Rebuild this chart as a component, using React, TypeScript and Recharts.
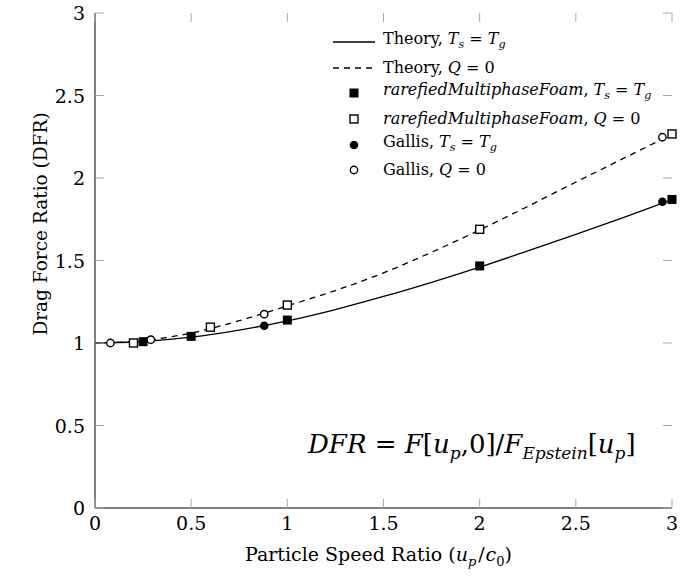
import { ComposedChart, Line, Scatter, XAxis, YAxis, Legend, Label } from 'recharts'

// theory curves, sampled every 0.25 in u_p/c_0
const theoryX = [0, 0.25, 0.5, 0.75, 1, 1.25, 1.5, 1.75, 2, 2.25, 2.5, 2.75, 3]
const theoryEqualT = [1, 1.009, 1.035, 1.078, 1.134, 1.203, 1.282, 1.368, 1.46, 1.558, 1.658, 1.762, 1.868]
const theoryAdiabatic = [1, 1.015, 1.06, 1.135, 1.225, 1.318, 1.425, 1.55, 1.685, 1.828, 1.975, 2.12, 2.265]

// rarefiedMultiphaseFoam results
const rmfEqualX = [0.25, 0.5, 1, 2, 3]
const rmfEqualY = [1.008, 1.04, 1.139, 1.467, 1.87]
const rmfAdiabaticX = [0.2, 0.6, 1, 2, 3]
const rmfAdiabaticY = [1.0, 1.096, 1.23, 1.689, 2.267]

// Gallis results
const gallisEqualX = [0.88, 2.95]
const gallisEqualY = [1.105, 1.856]
const gallisAdiabaticX = [0.08, 0.29, 0.88, 2.95]
const gallisAdiabaticY = [1.0, 1.02, 1.175, 2.247]

const axisTicks = [0, 0.5, 1, 1.5, 2, 2.5, 3]

const FONT = '"DejaVu Serif", serif'

// layout
const WIDTH = 697
const HEIGHT = 583
const MARGIN = { top: 13, right: 25, bottom: 0, left: 0 }
const Y_AXIS_W = 95
const X_AXIS_H = 75
const PLOT_LEFT = MARGIN.left + Y_AXIS_W
const PLOT_RIGHT = WIDTH - MARGIN.right
const PLOT_TOP = MARGIN.top
const PLOT_BOTTOM = HEIGHT - MARGIN.bottom - X_AXIS_H
const TICK_LEN = 9
const TICK_COLOR = '#a8a8a8'

const toPoints = (xs: number[], ys: number[]) => xs.map((x, i) => ({ x, y: ys[i] }))

const filledSquare = (p: any) => <rect x={p.cx - 4.5} y={p.cy - 4.5} width={9} height={9} fill="#000" />
const openSquare = (p: any) => (
  <rect x={p.cx - 4} y={p.cy - 4} width={8} height={8} fill="#fff" stroke="#000" strokeWidth={1.4} />
)
const filledCircle = (p: any) => <circle cx={p.cx} cy={p.cy} r={4.3} fill="#000" />
const openCircle = (p: any) => <circle cx={p.cx} cy={p.cy} r={3.7} fill="#fff" stroke="#000" strokeWidth={1.4} />

// ticks point inwards on all four sides of the box (pgfplots style);
// the bottom/left renderers also draw the matching top/right marks
const BottomTick = ({ x, payload }: any) => (
  <g>
    <path d={`M${x},${PLOT_BOTTOM}V${PLOT_BOTTOM - TICK_LEN}`} stroke={TICK_COLOR} fill="none" />
    <path d={`M${x},${PLOT_TOP}V${PLOT_TOP + TICK_LEN}`} stroke={TICK_COLOR} fill="none" />
    <text x={x} y={PLOT_BOTTOM + 22} textAnchor="middle" fontFamily={FONT} fontSize={19} fill="#000">
      {payload.value}
    </text>
  </g>
)
const LeftTick = ({ y, payload }: any) => (
  <g>
    <path d={`M${PLOT_LEFT},${y}H${PLOT_LEFT + TICK_LEN}`} stroke={TICK_COLOR} fill="none" />
    <path d={`M${PLOT_RIGHT},${y}H${PLOT_RIGHT - TICK_LEN}`} stroke={TICK_COLOR} fill="none" />
    <text x={PLOT_LEFT - 10} y={y + 7} textAnchor="end" fontFamily={FONT} fontSize={19} fill="#000">
      {payload.value}
    </text>
  </g>
)

const subStyle = { fontSize: '0.7em' }
const Ts = (
  <>
    <i>T</i><sub style={subStyle}><i>s</i></sub> = <i>T</i><sub style={subStyle}><i>g</i></sub>
  </>
)
const Q0 = (
  <>
    <i>Q</i> = 0
  </>
)

const legendItems = [
  { key: 'solid', label: <>Theory, {Ts}</> },
  { key: 'dashed', label: <>Theory, {Q0}</> },
  { key: 'fsq', label: <><i>rarefiedMultiphaseFoam</i>, {Ts}</> },
  { key: 'osq', label: <><i>rarefiedMultiphaseFoam</i>, {Q0}</> },
  { key: 'fci', label: <>Gallis, {Ts}</> },
  { key: 'oci', label: <>Gallis, {Q0}</> },
]

function LegendSymbol({ kind }: { kind: string }) {
  return (
    <svg width={44} height={20} style={{ display: 'block' }}>
      {kind === 'solid' && <line x1={0} y1={10} x2={42} y2={10} stroke="#000" strokeWidth={1.3} />}
      {kind === 'dashed' && <line x1={0} y1={10} x2={42} y2={10} stroke="#000" strokeWidth={1.3} strokeDasharray="6 5" />}
      {kind === 'fsq' && filledSquare({ cx: 21, cy: 10 })}
      {kind === 'osq' && openSquare({ cx: 21, cy: 10 })}
      {kind === 'fci' && filledCircle({ cx: 21, cy: 10 })}
      {kind === 'oci' && openCircle({ cx: 21, cy: 10 })}
    </svg>
  )
}

const renderLegend = () => (
  <div style={{ fontFamily: FONT, fontSize: 16, color: '#000' }}>
    {legendItems.map(item => (
      <div key={item.key} style={{ display: 'flex', alignItems: 'center', height: 25.6, whiteSpace: 'nowrap' }}>
        <LegendSymbol kind={item.key} />
        <span style={{ marginLeft: 6, lineHeight: '20px' }}>{item.label}</span>
      </div>
    ))}
  </div>
)

export default function App() {
  return (
    <div style={{ position: 'absolute', left: 0, top: 0, width: WIDTH, height: HEIGHT, background: '#fff' }}>
      <ComposedChart width={WIDTH} height={HEIGHT} margin={MARGIN}>
        <XAxis
          type="number"
          dataKey="x"
          domain={[0, 3]}
          ticks={axisTicks}
          height={X_AXIS_H}
          tickLine={false}
          axisLine={{ stroke: '#000' }}
          tick={BottomTick}
        >
          <Label
            content={() => (
              <text
                x={(PLOT_LEFT + PLOT_RIGHT) / 2 - 5}
                y={PLOT_BOTTOM + 53}
                textAnchor="middle"
                fontFamily={FONT}
                fontSize={19}
                fill="#000"
              >
                Particle Speed Ratio (<tspan fontStyle="italic">u</tspan>
                <tspan dy={5} fontSize={13} fontStyle="italic">p</tspan>
                <tspan dy={-5} dx={2}>/</tspan>
                <tspan dx={1} fontStyle="italic">c</tspan>
                <tspan dy={5} fontSize={13}>0</tspan>
                <tspan dy={-5}>)</tspan>
              </text>
            )}
          />
        </XAxis>
        <XAxis
          xAxisId="top"
          orientation="top"
          type="number"
          domain={[0, 3]}
          height={0}
          mirror
          tick={false}
          tickLine={false}
          axisLine={{ stroke: '#000' }}
        />
        <YAxis
          type="number"
          dataKey="y"
          domain={[0, 3]}
          ticks={axisTicks}
          width={Y_AXIS_W}
          tickLine={false}
          axisLine={{ stroke: '#000' }}
          tick={LeftTick}
        >
          <Label
            content={() => (
              <text
                x={40}
                y={224}
                transform="rotate(-90 40 224)"
                textAnchor="middle"
                dominantBaseline="central"
                fontFamily={FONT}
                fontSize={18.5}
                fill="#000"
              >
                Drag Force Ratio (DFR)
              </text>
            )}
          />
        </YAxis>
        <YAxis
          yAxisId="right"
          orientation="right"
          type="number"
          domain={[0, 3]}
          width={0}
          mirror
          tick={false}
          tickLine={false}
          axisLine={{ stroke: '#000' }}
        />

        <Line
          data={toPoints(theoryX, theoryEqualT)}
          dataKey="y"
          type="monotone"
          stroke="#000"
          strokeWidth={1.3}
          dot={false}
          activeDot={false}
          isAnimationActive={false}
          name="Theory, Ts = Tg"
        />
        <Line
          data={toPoints(theoryX, theoryAdiabatic)}
          dataKey="y"
          type="monotone"
          stroke="#000"
          strokeWidth={1.3}
          strokeDasharray="6 5"
          dot={false}
          activeDot={false}
          isAnimationActive={false}
          name="Theory, Q = 0"
        />
        <Scatter data={toPoints(gallisEqualX, gallisEqualY)} shape={filledCircle} isAnimationActive={false} name="Gallis, Ts = Tg" />
        <Scatter data={toPoints(gallisAdiabaticX, gallisAdiabaticY)} shape={openCircle} isAnimationActive={false} name="Gallis, Q = 0" />
        <Scatter data={toPoints(rmfEqualX, rmfEqualY)} shape={filledSquare} isAnimationActive={false} name="rarefiedMultiphaseFoam, Ts = Tg" />
        <Scatter data={toPoints(rmfAdiabaticX, rmfAdiabaticY)} shape={openSquare} isAnimationActive={false} name="rarefiedMultiphaseFoam, Q = 0" />

        <Legend
          layout="horizontal"
          verticalAlign="middle"
          align="center"
          content={renderLegend}
          wrapperStyle={{ top: 29.5, left: 333, width: 340, height: 160 }}
        />
      </ComposedChart>

      <div
        style={{
          position: 'absolute',
          left: 308,
          top: 429,
          fontFamily: FONT,
          fontSize: 26,
          lineHeight: '30px',
          whiteSpace: 'nowrap',
          color: '#000',
        }}
      >
        <i>DFR</i> = <i>F</i>[<i>u</i><sub style={{ fontSize: 17 }}><i>p</i></sub>,0]/<i>F</i>
        <sub style={{ fontSize: 17 }}><i>Epstein</i></sub>[<i>u</i><sub style={{ fontSize: 17 }}><i>p</i></sub>]
      </div>
    </div>
  )
}
